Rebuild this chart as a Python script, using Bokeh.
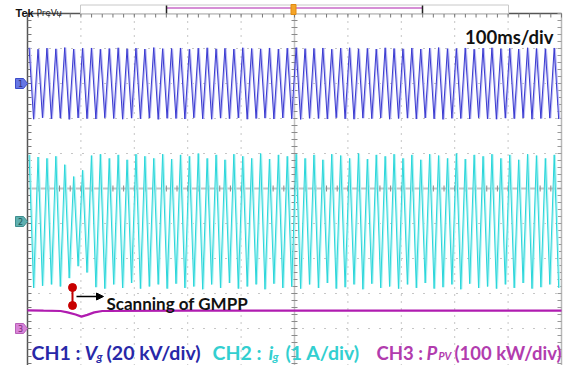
import numpy as np
from bokeh.plotting import figure
from bokeh.models import Range1d, Label, Arrow, NormalHead
from bokeh.embed import file_html
from bokeh.resources import INLINE

# ---------------- data ----------------
time_per_div_ms = 100
n_hdiv = 10
n_vdiv = 10
grid_freq_hz = 60
first_peak_ms = 3.0

# CH1 : grid voltage, 20 kV/div, offset +3 div
ch1_scale_kv = 20
ch1_offset_div = 3.0
ch1_peak_kv = [20.4, 19.6, 20.2, 19.8, 20.5, 19.7, 20.1, 20.3, 19.6, 20.0,
               20.4, 19.8, 20.2, 19.7, 20.5, 19.9, 20.0, 20.3, 19.6, 20.2,
               20.4, 19.8, 20.1, 19.7, 20.4, 20.0, 19.8, 20.3, 19.7, 20.2,
               20.5, 19.9, 20.0, 20.3, 19.6, 20.2, 20.4, 19.8, 20.1, 19.7,
               20.4, 20.0, 19.8, 20.3, 19.7, 20.2, 20.5, 19.9, 20.0, 20.3,
               19.6, 20.2, 20.4, 19.8, 20.1, 19.7, 20.4, 20.0, 19.8, 20.3]

# CH2 : grid current, 1 A/div, offset -0.94 div
ch2_scale_a = 1
ch2_offset_div = -0.94
ch2_peak_a = [1.90, 1.84, 1.80, 1.86, 1.62, 1.28, 1.46, 1.88, 1.92, 1.80,
              1.90, 1.76, 1.92, 1.86, 1.80, 1.92, 1.78, 1.90, 1.86, 1.94,
              1.80, 1.90, 1.76, 1.92, 1.86, 1.80, 1.94, 1.78, 1.90, 1.86,
              1.92, 1.80, 1.90, 1.76, 1.92, 1.88, 1.80, 1.94, 1.78, 1.90,
              1.86, 1.92, 1.80, 1.90, 1.76, 1.92, 1.88, 1.80, 1.94, 1.78,
              1.90, 1.86, 1.92, 1.80, 1.90, 1.76, 1.92, 1.88, 1.80, 1.90]

# CH3 : PV power, 100 kW/div, offset -4 div
ch3_scale_kw = 100
ch3_offset_div = -4.0
ch3_t_ms = [0, 30, 62, 75, 90, 101, 112, 125, 140, 300, 600, 1000]
ch3_kw = [52, 51, 50, 46, 40, 34, 39, 46, 50, 51, 51, 51]

# ---------------- geometry of the screenshot ----------------
W, H = 567, 365
PX_LEFT, PX_RIGHT = 27, 561
PX_CY = 188
PX_DIV_Y = 35.0
px_per_ms = (PX_RIGHT - PX_LEFT) / (n_hdiv * time_per_div_ms)


def dx(px):
    return (px - PX_LEFT) / px_per_ms


def dy(py):
    return (PX_CY - py) / PX_DIV_Y


p = figure(width=W, height=H, x_range=Range1d(dx(0), dx(W)),
           y_range=Range1d(dy(H), dy(0)), output_backend="svg",
           toolbar_location=None, min_border=0,
           x_axis_location=None, y_axis_location=None)
p.outline_line_color = None
p.grid.visible = False
p.background_fill_color = "white"
p.border_fill_color = "white"

t_end = n_hdiv * time_per_div_ms
grid_t = [i * time_per_div_ms for i in range(n_hdiv + 1)]
grid_v = [i - n_vdiv / 2 for i in range(n_vdiv + 1)]
y_top = n_vdiv / 2
y_bot = dy(H)

# dotted grid
vx = [[t, t] for t in grid_t[1:-1] if t != t_end / 2]
p.multi_line(vx, [[y_bot, y_top]] * len(vx), line_color="#8c8c8c",
             line_width=1, line_dash="1 6")
hy = [[v, v] for v in grid_v[1:] if v != 0]
p.multi_line([[0, t_end]] * len(hy), hy, line_color="#8c8c8c",
             line_width=1, line_dash="1 10")

# centre cross with minor ticks
p.segment(x0=[0], y0=[0], x1=[t_end], y1=[0], line_color="#c4c4c4", line_width=2)
p.segment(x0=[t_end / 2], y0=[y_bot], x1=[t_end / 2], y1=[y_top],
          line_color="#c4c4c4", line_width=1.5)
mt = [i * time_per_div_ms / 5 for i in range(n_hdiv * 5 + 1)]
mv = [v / 5 for v in range(-26, 26)]
tk_y = 3 / PX_DIV_Y
tk_x = 3 / px_per_ms
p.segment(x0=mt, y0=[-tk_y] * len(mt), x1=mt, y1=[tk_y] * len(mt),
          line_color="#8a8a8a", line_width=1)
p.segment(x0=[t_end / 2 - tk_x] * len(mv), y0=mv, x1=[t_end / 2 + tk_x] * len(mv),
          y1=mv, line_color="#8a8a8a", line_width=1)

# borders
p.segment(x0=[0], y0=[y_bot], x1=[0], y1=[y_top], line_color="#555555", line_width=1.5)
p.segment(x0=[0], y0=[y_top], x1=[t_end], y1=[y_top], line_color="#555555", line_width=1.5)
p.segment(x0=[t_end], y0=[y_bot], x1=[t_end], y1=[y_top], line_color="#b8b8b8", line_width=1.5)
mvb = [v for v in mv if v <= y_top]
p.segment(x0=[0] * len(mvb), y0=mvb, x1=[4 / px_per_ms] * len(mvb), y1=mvb,
          line_color="#777777", line_width=1)
p.segment(x0=[t_end - 4 / px_per_ms] * len(mvb), y0=mvb, x1=[t_end] * len(mvb), y1=mvb,
          line_color="#999999", line_width=1)
p.segment(x0=mt, y0=[y_top] * len(mt), x1=mt, y1=[y_top - 4 / PX_DIV_Y] * len(mt),
          line_color="#777777", line_width=1)

# ---------------- waveforms ----------------
T = 1000.0 / grid_freq_hz


def zigzag(peaks, offset, scale):
    ts, ys = [], []
    for k, a in enumerate(peaks):
        tp = first_peak_ms + k * T
        ts += [tp, tp + T / 2]
        ys += [offset + a / scale, offset - a / scale]
    return ts, ys


t1, y1 = zigzag(ch1_peak_kv, ch1_offset_div, ch1_scale_kv)
p.line([t + 1.6 for t in t1], y1, line_color="#bcbcf4", line_width=1.6)
p.line(t1, y1, line_color="#3a3ad0", line_width=1.0)

t2, y2 = zigzag(ch2_peak_a, ch2_offset_div, ch2_scale_a)
p.line([t + 1.6 for t in t2], y2, line_color="#b0f2f2", line_width=1.6)
p.line(t2, y2, line_color="#2ad6da", line_width=1.0)

y3 = [ch3_offset_div + v / ch3_scale_kw for v in ch3_kw]
p.line(ch3_t_ms, y3, line_color="#b01cb0", line_width=2.2)

# ---------------- channel markers ----------------
def tag(px_y, fill, edge, label, tcol):
    xs = [dx(15), dx(23), dx(27), dx(23), dx(15)]
    ys = [dy(px_y - 5), dy(px_y - 5), dy(px_y), dy(px_y + 5), dy(px_y + 5)]
    p.patch(xs, ys, fill_color=fill, line_color=edge, line_width=1)
    p.add_layout(Label(x=dx(20), y=dy(px_y), text=label, text_font_size="8px",
                       text_align="center", text_baseline="middle",
                       text_color=tcol, text_font="DejaVu Sans"))


tag(83, "#6676e4", "#3c4cc8", "1", "#30307a")
tag(221, "#5fb0b0", "#3f8f8f", "2", "#245a5a")
tag(328, "#d884d8", "#b860b8", "3", "#7a2a7a")

# ---------------- top status bar ----------------
p.add_layout(Label(x=dx(15), y=dy(12), text="Tek", text_font_size="11px",
                   text_font_style="bold", text_color="#111111",
                   text_font="Liberation Sans", text_baseline="alphabetic"))
p.add_layout(Label(x=dx(36), y=dy(12), text="PreVu", text_font_size="9px",
                   text_color="#222222", text_font="DejaVu Sans",
                   text_baseline="alphabetic"))
p.quad(left=[dx(80)], right=[dx(508)], top=[dy(4.5)], bottom=[dy(13)],
       fill_color="white", line_color="#c8c8c8", line_width=1)
p.segment(x0=[dx(166)], y0=[dy(7.5)], x1=[dx(422)], y1=[dy(7.5)],
          line_color="#c86ac8", line_width=1.5)
p.segment(x0=[dx(166), dx(422)], y0=[dy(5), dy(5)], x1=[dx(166), dx(422)],
          y1=[dy(13), dy(13)], line_color="#222222", line_width=1.5)
p.quad(left=[dx(290.5)], right=[dx(295.5)], top=[dy(4)], bottom=[dy(14)],
       fill_color="#f4a428", line_color="#e08a10", line_width=1)

p.add_layout(Label(x=dx(553), y=dy(36), text="100ms/div", text_font_size="18.5px",
                   text_font_style="bold", text_color="#111111", text_align="right",
                   text_font="Lato", text_baseline="alphabetic"))

# ---------------- GMPP scanning annotation ----------------
p.segment(x0=[dx(72)], y0=[dy(287)], x1=[dx(72)], y1=[dy(305)],
          line_color="#c00000", line_width=2)
p.scatter([dx(72), dx(72)], [dy(287), dy(305)], size=8, fill_color="#c80000",
          line_color="#c80000")
p.add_layout(Arrow(end=NormalHead(size=7, fill_color="black", line_color="black"),
                   x_start=dx(76), y_start=dy(296), x_end=dx(103), y_end=dy(296),
                   line_color="black", line_width=1.5))
p.add_layout(Label(x=dx(106), y=dy(303), text="Scanning of GMPP",
                   text_font_size="17px", text_font_style="bold",
                   text_color="#111111", text_font="Lato",
                   text_baseline="alphabetic"))

# ---------------- legend ----------------
def piece(px_x, px_base, txt, col, size="19.5px", style="bold"):
    p.add_layout(Label(x=dx(px_x), y=dy(px_base), text=txt, text_font_size=size,
                       text_font_style=style, text_color=col,
                       text_font="Lato", text_baseline="alphabetic"))


c1, c2, c3 = "#2828a8", "#33cfd0", "#b23cae"
piece(31, 352, "CH1 :", c1)
piece(84, 352, "V", c1, style="bold italic")
piece(96, 356, "g", c1, size="12px", style="bold italic")
piece(106, 352, "(20 kV/div)", c1)
piece(212, 352, "CH2 :", c2)
piece(268, 352, "i", c2, style="bold italic")
piece(272, 356, "g", c2, size="12px", style="bold italic")
piece(285, 352, "(1 A/div)", c2)
piece(376, 352, "CH3 :", c3, size="18.5px")
piece(426, 352, "P", c3, size="18.5px", style="bold italic")
piece(438, 355, "PV", c3, size="10.5px", style="bold italic")
piece(454, 352, "(100 kW/div)", c3, size="18.5px")

open("out.html", "w").write(file_html(p, INLINE))
